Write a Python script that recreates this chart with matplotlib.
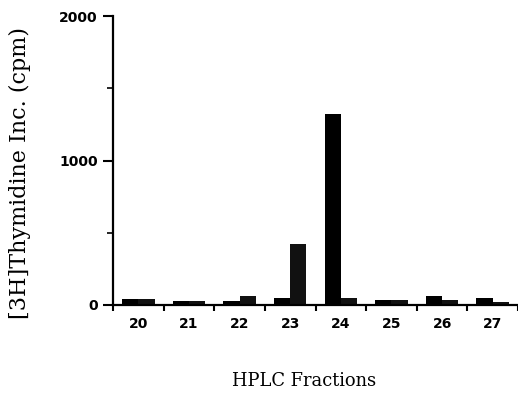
import numpy as np
import matplotlib.pyplot as plt

# HPLC fractions, two bars per fraction
fractions = [20, 21, 22, 23, 24, 25, 26, 27]
left_cpm = [40, 30, 25, 45, 1320, 35, 65, 50]
right_cpm = [40, 30, 60, 420, 50, 35, 35, 20]

fig = plt.figure(figsize=(5.18, 3.97), dpi=100)
ax = fig.add_axes([113/518, 1 - 305/397, 1 - 113/518, (305 - 16)/397])

x = np.array(fractions)
w = 0.32
ax.bar(x - w/2, left_cpm, width=w, color='black', edgecolor='black', linewidth=0)
ax.bar(x + w/2, right_cpm, width=w, color='#111111', edgecolor='black', linewidth=0)

ax.set_xlim(19.5, 27.45)
ax.set_ylim(0, 2000)

for s in ['top', 'right']:
    ax.spines[s].set_visible(False)
ax.spines['left'].set_linewidth(1.6)
ax.spines['bottom'].set_linewidth(1.6)

# ticks at fraction boundaries, labels at centres
ax.set_xticks(np.arange(19.5, 27.6, 1.0))
ax.set_xticklabels([])
ax.set_xticks(x, minor=True)
ax.set_xticklabels([str(f) for f in fractions], minor=True,
                   fontsize=10, fontweight='bold')
ax.tick_params(axis='x', which='major', direction='out', length=4, width=1.5)
ax.tick_params(axis='x', which='minor', length=0, pad=9)

ax.set_yticks([0, 1000, 2000])
ax.set_yticklabels(['0', '1000', '2000'], fontsize=10, fontweight='bold')
ax.set_yticks([500, 1500], minor=True)
ax.tick_params(axis='y', which='major', direction='out', length=7, width=1.5, pad=4)
ax.tick_params(axis='y', which='minor', direction='out', length=4, width=1.2)

fig.text(20/518, 1 - 173/397, '[3H]Thymidine Inc. (cpm)', rotation=90,
         ha='center', va='center', fontsize=16, family='DejaVu Serif')
fig.text(304/518, 1 - 381/397, 'HPLC Fractions', ha='center', va='center',
         fontsize=12.9, family='DejaVu Serif')

fig.savefig('out.png', dpi=100)
